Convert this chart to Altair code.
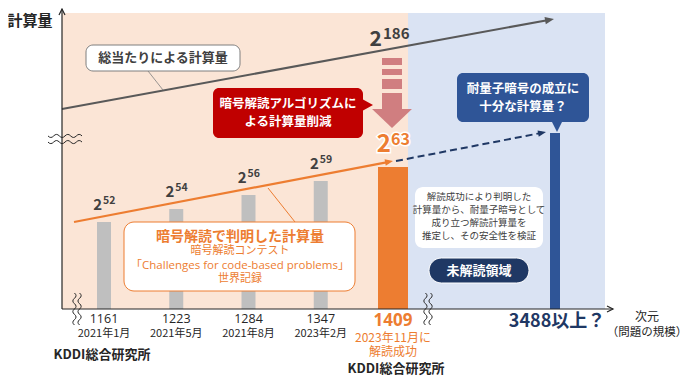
import math
import altair as alt
import pandas as pd

FONT = "Noto Sans CJK JP"
LATIN = "Open Sans, Noto Sans CJK JP"

# ---------------- data ----------------
dims = ["1161", "1223", "1284", "1347", "1409"]
dates = ["2021年1月", "2021年5月", "2021年8月", "2023年2月", "2023年11月に"]
exponents = [52, 54, 56, 59, 63]
levels = [87, 100, 114, 128, 142]          # schematic bar heights (px above axis)
target_label = "3488以上？"
target_level = 176
brute_exp = 186
brute_levels = [200, 290]                  # start / end of brute-force line
trend_levels = [87, 148]                   # orange trend line
future_levels = [148, 177]                 # dashed extrapolation

# ---------------- layout helpers ----------------
W, H = 684, 370
X0, Y0 = 8, 8
AXIS_Y = 309


def Y(py):
    return AXIS_Y - py


XS = alt.Scale(domain=[X0, X0 + W], nice=False, zero=False)
YS = alt.Scale(domain=[AXIS_Y - (Y0 + H), AXIS_Y - Y0], nice=False, zero=False)


def xq(f):
    return alt.X(f, type="quantitative", scale=XS, axis=None)


def yq(f):
    return alt.Y(f, type="quantitative", scale=YS, axis=None)


def rect(x0, py0, x1, py1, **kw):
    df = pd.DataFrame({"x": [x0], "x2": [x1], "y": [Y(py0)], "y2": [Y(py1)]})
    return alt.Chart(df).mark_rect(**kw).encode(
        x=xq("x"), x2="x2:Q", y=yq("y"), y2="y2:Q")


def seg_u(x0, y0, x1, y1, **kw):
    df = pd.DataFrame({"x": [x0], "x2": [x1], "y": [y0], "y2": [y1]})
    return alt.Chart(df).mark_rule(**kw).encode(
        x=xq("x"), x2="x2:Q", y=yq("y"), y2="y2:Q")


def seg(x0, py0, x1, py1, **kw):
    return seg_u(x0, Y(py0), x1, Y(py1), **kw)


def sym_u(x, y, shape, size, color, angle=0, filled=True, sw=1.0):
    df = pd.DataFrame({"x": [x], "y": [y]})
    kw = dict(shape=shape, size=size, opacity=1)
    if angle:
        kw["angle"] = angle % 360
    if filled:
        kw.update(filled=True, fill=color, strokeWidth=0)
    else:
        kw.update(filled=False, stroke=color, strokeWidth=sw)
    return alt.Chart(df).mark_point(**kw).encode(x=xq("x"), y=yq("y"))


def sym(x, py, *a, **k):
    return sym_u(x, Y(py), *a, **k)


def text_u(s, x, y, size, color, weight="normal", align="center",
           baseline="middle", font=FONT, **kw):
    df = pd.DataFrame({"x": [x], "y": [y], "t": [s]})
    return alt.Chart(df).mark_text(
        font=font, fontSize=size, color=color, fontWeight=weight,
        align=align, baseline=baseline, **kw).encode(
        x=xq("x"), y=yq("y"), text="t:N")


def text(s, x, py, *a, **k):
    return text_u(s, x, Y(py), *a, **k)


def ang(x0, y0, x1, y1):
    # y in axis units (up positive) -> screen angle (clockwise)
    return math.degrees(math.atan2(-(y1 - y0), x1 - x0)) % 360


def wave_path(vertical, periods=3, amp=0.1, gap=0.17):
    parts = []
    n = periods * 2
    step = 2.0 / n
    for off in (-gap, gap):
        def P(a, b):
            return f"{b:.3f},{a:.3f}" if vertical else f"{a:.3f},{b:.3f}"
        s = "M" + P(-1, off)
        for k in range(n):
            a0 = -1 + k * step
            am = a0 + step / 2
            a1 = a0 + step
            c = off + (2 * amp if k % 2 == 0 else -2 * amp)
            s += " Q" + P(am, c) + " " + P(a1, off)
        parts.append(s)
    return " ".join(parts)


ARROW = "M0,0 L-2,-0.8 L-2,0.8 Z"
CHEV = "M-2,-1 L0,0 L-2,1"

PEACH = "#FBE5D6"
LBLUE = "#DAE3F3"
GRAY_BAR = "#BFBFBF"
ORANGE = "#ED7D31"
NAVY = "#2F5597"
DNAVY = "#1F3864"
RED = "#C00000"
PINK = "#D07E80"
DARK = "#262626"

layers = []

# backgrounds
layers.append(rect(62, 13, 408, AXIS_Y, color=PEACH))
layers.append(rect(408, 13, 605, AXIS_Y, color=LBLUE))

# brute force line
bx0, bx1 = 62, 554
layers.append(seg_u(bx0, brute_levels[0], bx1 - 4, brute_levels[1] - 0.7,
                    color="#595959", strokeWidth=2))
layers.append(sym_u(bx1, brute_levels[1], ARROW, 81, "#595959",
                    angle=ang(bx0, brute_levels[0], bx1, brute_levels[1])))

# brute-force callout
layers.append(seg(148, 71, 163, 90, color="#7F7F7F", strokeWidth=0.8))
layers.append(rect(86, 45, 240, 71, color="white", stroke="#7F7F7F",
                   strokeWidth=1, cornerRadius=7))

# y-axis break
layers.append(sym(65, 139, wave_path(False, 3, 0.09, 0.18), 34 ** 2, DARK,
                  filled=False, sw=1))

# bars
centers = [104 + 72.25 * i for i in range(len(dims))]
widths = [14, 14, 14, 14, 30]
bar_colors = [GRAY_BAR] * 4 + [ORANGE]
bars = pd.DataFrame({
    "dim": dims, "level": levels,
    "x0": [c - w / 2 for c, w in zip(centers, widths)],
    "x1": [c + w / 2 for c, w in zip(centers, widths)],
    "col": bar_colors,
})
layers.append(alt.Chart(bars).mark_rect().encode(
    x=xq("x0"), x2="x1:Q", y=yq("level"), y2=alt.datum(0),
    color=alt.Color("col:N", scale=None)))

tx = 555
layers.append(alt.Chart(pd.DataFrame({"x0": [tx - 5], "x1": [tx + 5],
                                      "level": [target_level]}))
              .mark_rect(color=NAVY).encode(
                  x=xq("x0"), x2="x1:Q", y=yq("level"), y2=alt.datum(0)))

# trend line + dashed extrapolation
t0x, t1x = 74, centers[4]
layers.append(seg_u(t0x, trend_levels[0], t1x - 4, trend_levels[1] - 0.8,
                    color=ORANGE, strokeWidth=2.2))
layers.append(sym_u(t1x, trend_levels[1], ARROW, 64, ORANGE,
                    angle=ang(t0x, trend_levels[0], t1x, trend_levels[1])))
f0x, f1x = 396, 546
layers.append(seg_u(f0x, future_levels[0], f1x - 4, future_levels[1] - 0.8,
                    color=DNAVY, strokeWidth=2, strokeDash=[7, 4]))
layers.append(sym_u(f1x, future_levels[1], ARROW, 64, DNAVY,
                    angle=ang(f0x, future_levels[0], f1x, future_levels[1])))

# orange callout
layers.append(seg(295, 222, 268, 188, color=ORANGE, strokeWidth=1))
layers.append(rect(124, 222, 355, 291, color="white", stroke=ORANGE,
                   strokeWidth=1, cornerRadius=10))

# red box + pointer
layers.append(rect(213, 88, 363, 138, color=RED, cornerRadius=6))
layers.append(sym(373, 105, "M0,0 L-2,-1.1 L-2,1.1 Z", 100, RED))

# pink reduction arrow
for a, b in [(58, 65), (69, 75), (79, 89), (93, 110)]:
    layers.append(rect(382, a, 402, b, color=PINK))
layers.append(sym(392, 128, "M0,0 L-2,-2.1 L-2,2.1 Z", 361, PINK, angle=90))

# navy box + pointer
layers.append(rect(457, 73, 589, 122, color=NAVY, cornerRadius=6))
layers.append(sym(557, 132, "M0,0 L-2,-1 L-2,1 Z", 100, NAVY, angle=90))

# info box + pill
layers.append(rect(415, 187, 543, 248, color="white", cornerRadius=8))
layers.append(rect(429, 258, 529, 283, color=DNAVY, stroke="white",
                   strokeWidth=1, cornerRadius=12.5))

# axes
layers.append(seg(62, AXIS_Y, 62, 9, color=DARK, strokeWidth=1.2))
layers.append(sym(62, 9, CHEV, 36, DARK, angle=270, filled=False, sw=1.2))
layers.append(seg(62, AXIS_Y, 613, AXIS_Y, color=DARK, strokeWidth=1.2))
layers.append(sym(613, AXIS_Y, CHEV, 36, DARK, filled=False, sw=1.2))

# x-axis breaks
vw = wave_path(True, 3, 0.1, 0.16)
layers.append(sym(77, 309, vw, 32 ** 2, DARK, filled=False, sw=1))
layers.append(sym(428, 309, vw, 32 ** 2, DARK, filled=False, sw=1))

# ---------------- texts ----------------
layers.append(text("計算量", 30, 21, 15, DARK, "bold"))
layers.append(text("総当たりによる計算量", 163, 58, 13, "#404040", "bold"))

# exponent labels on gray bars
for i in range(4):
    c, lv = centers[i], levels[i]
    layers.append(text_u("2", c - 2, lv + 12, 15, "#404040", "bold",
                         align="right", baseline="alphabetic"))
    layers.append(text_u(str(exponents[i]), c - 1, lv + 18, 10.5, "#404040",
                         "bold", align="left", baseline="alphabetic"))

# 2^63 with white halo
c4, lv4 = centers[4], levels[4]
for stroke in (True, False):
    extra = dict(stroke="white", strokeWidth=3) if stroke else {}
    layers.append(text_u("2", c4 - 2, lv4 + 15, 24, ORANGE, "bold",
                         align="right", baseline="alphabetic", **extra))
    layers.append(text_u(str(exponents[4]), c4 - 2, lv4 + 22, 16, ORANGE,
                         "bold", align="left", baseline="alphabetic", **extra))

# 2^186
layers.append(text("2", 382, 46, 21, "#404040", "bold", align="right",
                   baseline="alphabetic"))
layers.append(text(str(brute_exp), 383, 39, 15, "#404040", "bold",
                   align="left", baseline="alphabetic"))

# red box text
layers.append(text("暗号解読アルゴリズムに", 288, 104, 12.5, "white", "bold"))
layers.append(text("よる計算量削減", 288, 122, 12.5, "white", "bold"))

# navy box text
layers.append(text("耐量子暗号の成立に", 523, 89, 12.5, "white", "bold"))
layers.append(text("十分な計算量？", 523, 107, 12.5, "white", "bold"))

# orange callout text
layers.append(text("暗号解読で判明した計算量", 240, 237, 14, ORANGE, "bold"))
layers.append(text("暗号解読コンテスト", 240, 251, 11, ORANGE))
layers.append(text("「Challenges for code-based problems」", 240, 266, 11.5,
                   ORANGE, font=LATIN))
layers.append(text("世界記録", 240, 279, 11, ORANGE))

# info box text
for s, py in [("解読成功により判明した", 197), ("計算量から、耐量子暗号として", 210),
              ("成り立つ解読計算量を", 223), ("推定し、その安全性を検証", 236)]:
    layers.append(text(s, 479, py, 9.5, "#404040"))
layers.append(text("未解読領域", 479, 271, 13, "white", "bold"))

# x labels
for i in range(4):
    layers.append(text(dims[i], centers[i], 319, 12.5, DARK, font=LATIN))
    layers.append(text(dates[i], centers[i], 334, 11, DARK))
layers.append(text(dims[4], centers[4], 321, 17, ORANGE, "bold", font=LATIN))
layers.append(text(dates[4], centers[4], 338, 12, ORANGE))
layers.append(text("解読成功", centers[4], 352, 12, ORANGE))
layers.append(text("KDDI総合研究所", 102, 355, 13, DARK, "bold"))
layers.append(text("KDDI総合研究所", 396, 369, 13, DARK, "bold"))
layers.append(text(target_label, tx + 2, 322, 18, DNAVY, "bold"))
layers.append(text("次元", 647, 317, 12, DARK))
layers.append(text("（問題の規模）", 647, 333, 11.5, DARK))

chart = alt.layer(*layers).properties(
    width=W, height=H, padding=0,
    autosize=alt.AutoSizeParams(type="none"),
    background="white",
).configure_view(strokeWidth=0)

chart.save("out.html", embed_options={"renderer": "svg", "actions": False})
